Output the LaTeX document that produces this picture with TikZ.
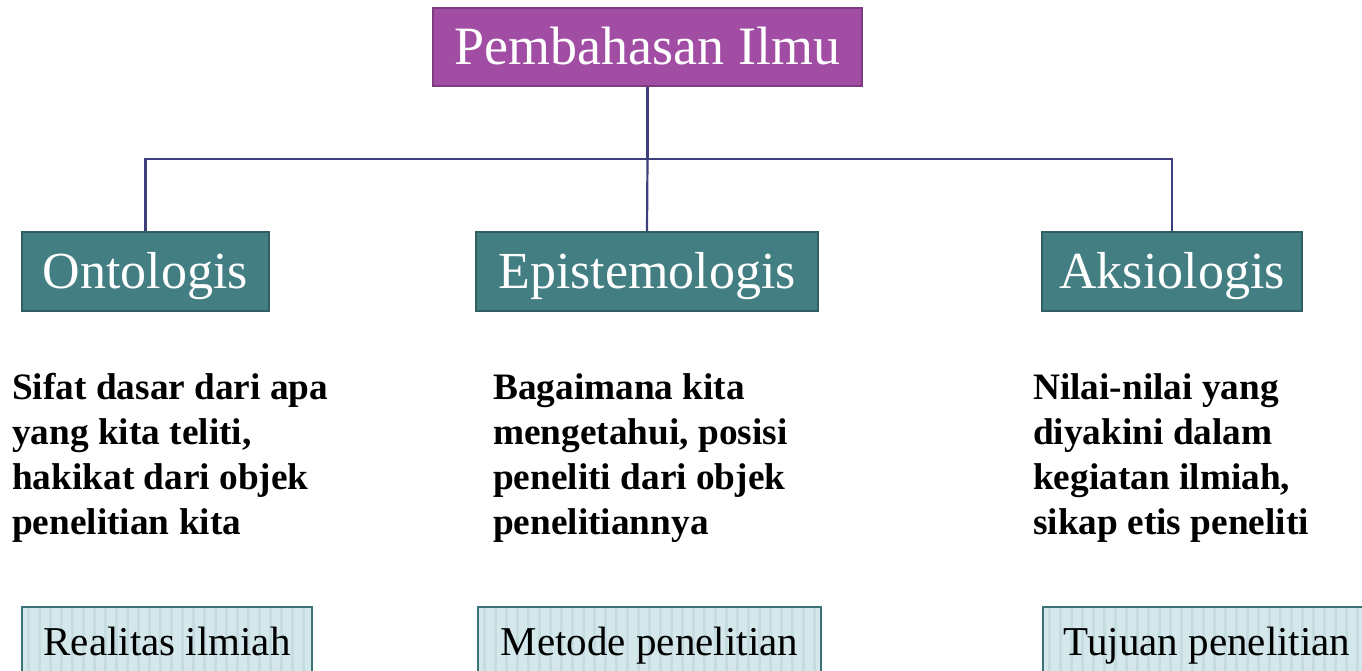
\documentclass[tikz,border=0pt]{standalone}
\usepackage{fontspec}
\setmainfont{Liberation Serif}
\definecolor{purpfill}{HTML}{A04DA3}
\definecolor{purpdraw}{HTML}{7D3B80}
\definecolor{tealfill}{HTML}{427E82}
\definecolor{tealdraw}{HTML}{305E61}
\definecolor{connc}{HTML}{3E3E7A}
\definecolor{lightfill}{HTML}{D4E8EB}
\definecolor{stripec}{HTML}{C5DCE0}
\definecolor{lightdraw}{HTML}{3B7276}
\begin{document}
\begin{tikzpicture}[x=1pt,y=-1pt,
  titlebox/.style={draw=purpdraw,line width=2pt,fill=purpfill,text=white,
    font=\fontsize{54}{62}\selectfont,inner sep=0pt,text height=35pt,text depth=0pt,
    minimum width=429pt,minimum height=78pt},
  catbox/.style={draw=tealdraw,line width=2pt,fill=tealfill,text=white,
    font=\fontsize{52}{60}\selectfont,inner sep=0pt,text height=34pt,text depth=0pt,
    minimum height=79pt},
  resbox/.style={draw=lightdraw,line width=2pt,fill=lightfill,text=black,
    font=\fontsize{41}{48}\selectfont,inner sep=0pt,text height=27pt,text depth=0pt,
    minimum height=69pt,
    path picture={\foreach \i in {0,...,40}{
      \draw[stripec,line width=3pt]
        ([xshift=\i*11pt+6pt]path picture bounding box.south west) --
        ([xshift=\i*11pt+6pt]path picture bounding box.north west);}}},
  desc/.style={align=left,inner sep=0pt,anchor=north west,
    font=\bfseries\fontsize{37.3}{45}\selectfont},
  conn/.style={draw=connc,line width=2.2pt}]
\useasboundingbox (0,0) rectangle (1362,670);
\clip (0,0) rectangle (1362,670);
\node[titlebox] (top) at (647.5,47) {Pembahasan Ilmu};
\node[catbox,minimum width=247pt] (onto) at (145.5,271.5) {Ontologis};
\node[catbox,minimum width=342pt] (epis) at (647,271.5) {Epistemologis};
\node[catbox,minimum width=260pt] (akso) at (1172,271.5) {Aksiologis};
\coordinate (bus) at (647.5,159);
\draw[conn] (top.south) -- (bus);
\draw[conn] (onto.north) |- (bus) -| (akso.north);
\draw[conn] (bus) -- (epis.north);
\node[desc] (d1) at (12,373.5) {Sifat dasar dari apa\\yang kita teliti,\\hakikat dari objek\\penelitian kita};
\node[desc] (d2) at (493,373.5) {Bagaimana kita\\mengetahui, posisi\\peneliti dari objek\\penelitiannya};
\node[desc] (d3) at (1033,373.5) {Nilai-nilai yang\\diyakini dalam\\kegiatan ilmiah,\\sikap etis peneliti};
\node[resbox,minimum width=290pt] (r1) at (167,641.5) {Realitas ilmiah};
\node[resbox,minimum width=343pt] (r2) at (649.5,641.5) {Metode penelitian};
\node[resbox,minimum width=328pt] (r3) at (1207,641.5) {Tujuan penelitian};
\end{tikzpicture}
\end{document}
